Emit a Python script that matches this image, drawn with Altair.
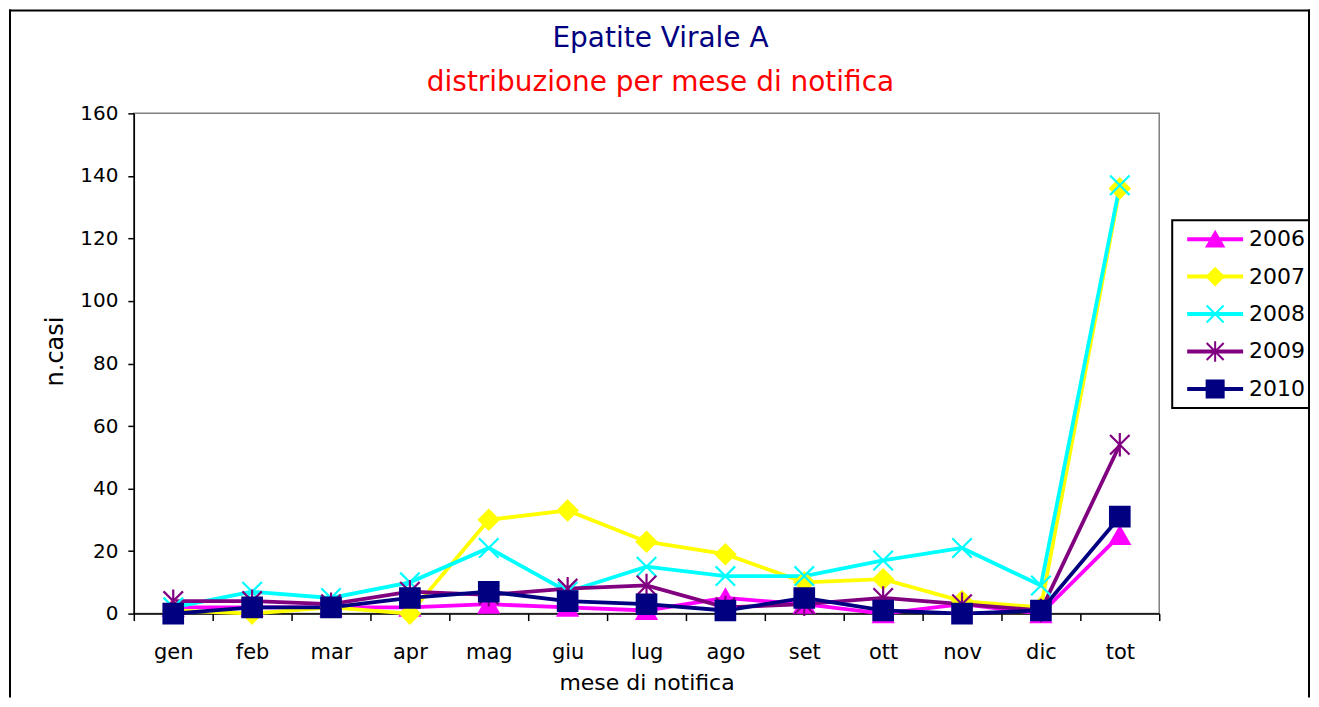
import altair as alt
import pandas as pd

months = ["gen", "feb", "mar", "apr", "mag", "giu", "lug", "ago", "set", "ott", "nov", "dic", "tot"]
years = ["2006", "2007", "2008", "2009", "2010"]
cases_2006 = [2, 2, 2, 2, 3, 2, 1, 5, 3, 0, 3, 0, 25]
cases_2007 = [1, 0, 2, 0, 30, 33, 23, 19, 10, 11, 4, 2, 136]
cases_2008 = [2, 7, 5, 10, 21, 7, 15, 12, 12, 17, 21, 9, 137]
cases_2009 = [4, 4, 3, 7, 6, 8, 9, 2, 3, 5, 3, 1, 54]
cases_2010 = [0, 2, 2, 5, 7, 4, 3, 1, 5, 1, 0, 1, 31]
series = [cases_2006, cases_2007, cases_2008, cases_2009, cases_2010]
y_ticks = [0, 20, 40, 60, 80, 100, 120, 140, 160]

colors = ["#FF00FF", "#FFFF00", "#00FFFF", "#800080", "#000080"]
x_path = "M-1,-1L1,1M-1,1L1,-1"
ast_path = "M-1,-1L1,1M-1,1L1,-1M0,-1.2L0,1.2"
shapes = ["triangle-up", "diamond", x_path, ast_path, "square"]

rows = []
for yr, vals in zip(years, series):
    for m, v in zip(months, vals):
        rows.append({"mese": m, "anno": yr, "casi": v})
df = pd.DataFrame(rows)
leg = pd.DataFrame({"anno": years})
one = pd.DataFrame({"k": [0]})

color_scale = alt.Scale(domain=years, range=colors)
shape_scale = alt.Scale(domain=years, range=shapes)

x_enc = alt.X(
    "mese:N", sort=months,
    scale=alt.Scale(domain=months, paddingInner=0, paddingOuter=0),
    axis=alt.Axis(title="mese di notifica", labelAngle=0, tickBand="extent",
                  labelFontSize=21, labelPadding=21, tickSize=7,
                  titleFontSize=22, titlePadding=10, grid=False),
)
y_enc = alt.Y(
    "casi:Q", scale=alt.Scale(domain=[0, 160], nice=False),
    axis=alt.Axis(title="n.casi", values=y_ticks, grid=False,
                  labelFontSize=20, labelPadding=10, tickSize=6,
                  titleFontSize=24, titlePadding=12, titleY=238),
)
color_enc = alt.Color("anno:N", scale=color_scale, legend=None)
stroke_enc = alt.Stroke("anno:N", scale=color_scale, legend=None)
shape_enc = alt.Shape("anno:N", scale=shape_scale, legend=None)

# outer frame of the figure (left, top, right edges; bottom lies below the window)
frame_left = alt.Chart(one).mark_rule(stroke="black", strokeWidth=2).encode(
    x=alt.value(-124), y=alt.value(-104), y2=alt.value(585)
)
frame_top = alt.Chart(one).mark_rule(stroke="black", strokeWidth=2).encode(
    x=alt.value(-125), x2=alt.value(1178), y=alt.value(-103)
)
frame_right = alt.Chart(one).mark_rule(stroke="black", strokeWidth=2).encode(
    x=alt.value(1177), y=alt.value(-104), y2=alt.value(585)
)

lines = alt.Chart(df).mark_line(strokeWidth=3.8).encode(x=x_enc, y=y_enc, color=color_enc)
points = alt.Chart(df).mark_point(filled=True, size=380, strokeWidth=2.2, opacity=1).encode(
    x=x_enc, y=y_enc, color=color_enc, stroke=stroke_enc, shape=shape_enc
)
main = alt.layer(frame_left, frame_top, frame_right, lines, points)

leg_y = alt.Y("anno:N", scale=alt.Scale(type="point", domain=years, range=[126, 276], padding=0), axis=None)
leg_box = alt.Chart(one).mark_rect(fill="white", stroke="black", strokeWidth=2).encode(
    x=alt.value(1040), x2=alt.value(1177), y=alt.value(107), y2=alt.value(295)
)
leg_rules = alt.Chart(leg).mark_rule(strokeWidth=4).encode(
    x=alt.value(1055), x2=alt.value(1111), y=leg_y, color=color_enc
)
leg_points = alt.Chart(leg).mark_point(filled=True, size=290, strokeWidth=2, opacity=1).encode(
    x=alt.value(1083), y=leg_y, color=color_enc, stroke=stroke_enc, shape=shape_enc
)
leg_text = alt.Chart(leg).mark_text(align="left", baseline="middle", font="DejaVu Sans",
                                    fontSize=22, color="black").encode(
    x=alt.value(1117), y=leg_y, text="anno:N"
)
legend = alt.layer(leg_box, leg_rules, leg_points, leg_text)

chart = alt.layer(main, legend).resolve_scale(y="independent").properties(
    width=1027, height=501, padding=0,
    title=alt.TitleParams(
        text="Epatite Virale A", subtitle="distribuzione per mese di notifica",
        font="DejaVu Sans", fontSize=28, fontWeight="normal", color="#000080",
        subtitleFont="DejaVu Sans", subtitleFontSize=28, subtitleColor="#FF0000",
        subtitlePadding=16, anchor="middle", offset=-89, dx=14,
    ),
).configure_view(stroke="#808080", strokeWidth=1.5).configure_axis(
    domainColor="black", tickColor="black", labelColor="black", titleColor="black",
    labelFont="DejaVu Sans", titleFont="DejaVu Sans", titleFontWeight="normal",
    domainWidth=1.5, tickWidth=1.5,
)

chart.save("out.html", embed_options={"renderer": "svg", "actions": False})
